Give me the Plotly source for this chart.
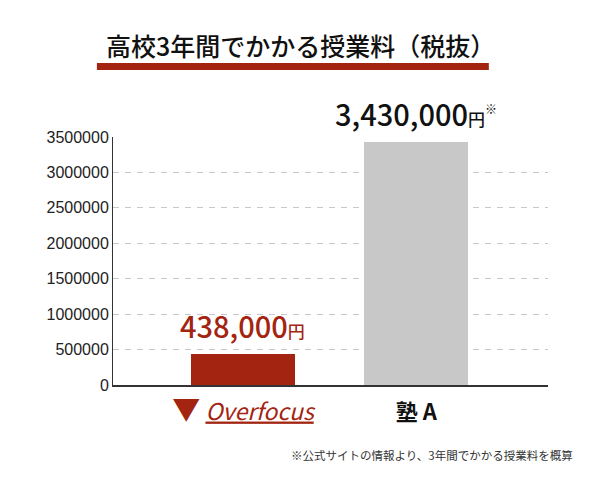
import plotly.graph_objects as go

# data
schools = ['Overfocus', '塾 A']
fees = [438000, 3430000]
fee_labels = ['438,000', '3,430,000']
tick_labels = ["<span style='color:#a32411;font-size:28px'>▼</span>"
               "<span style='color:#a32411;font-size:23px'> <i><u>Overfocus</u></i></span>",
               "<span style='font-size:22px'><b>塾 A</b></span>"]
bar_colors = ['#a32411', '#c8c8c8']
label_colors = ['#a32411', '#111111']
y_ticks = [0, 500000, 1000000, 1500000, 2000000, 2500000, 3000000, 3500000]

title = '高校3年間でかかる授業料（税抜）'
note = '※公式サイトの情報より、3年間でかかる授業料を概算'

fnt = 'Noto Sans CJK JP'

fig = go.Figure()
fig.add_trace(go.Bar(x=schools, y=fees, marker_color=bar_colors,
                     marker_line_width=0, width=0.6, hoverinfo='skip'))

# value labels over bars
for i, (s, v) in enumerate(zip(schools, fees)):
    extra = "<sup><span style='font-size:12px'>※</span></sup>" if i == 1 else ''
    fig.add_annotation(x=s, y=v, xref='x', yref='y', yanchor='bottom', yshift=6,
                       text=fee_labels[i] + "<span style='font-size:17px'>円</span>" + extra,
                       showarrow=False,
                       font=dict(family=fnt, size=29, color=label_colors[i], weight=500))

# title + red bar under it
fig.add_annotation(x=0.43, y=1.37, xref='paper', yref='paper', text=title,
                   showarrow=False, font=dict(family=fnt, size=25, color='#111', weight=500),
                   xanchor='center', yanchor='middle')
fig.add_shape(type='rect', xref='paper', yref='paper', x0=-0.037, x1=0.864,
              y0=1.270, y1=1.298, fillcolor='#a32411', line_width=0)

# footnote
fig.add_annotation(x=1.062, y=-0.282, xref='paper', yref='paper', text=note,
                   showarrow=False, xanchor='right', yanchor='middle',
                   font=dict(family=fnt, size=11.5, color='#333'))

fig.update_xaxes(range=[-0.75, 1.76], tickvals=schools, ticktext=tick_labels,
                 showline=True, linecolor='#333', linewidth=1.5,
                 ticks='', ticklabelstandoff=10,
                 tickfont=dict(family=fnt, size=19, color='#111'),
                 showgrid=False)
fig.update_yaxes(range=[0, 3500000], tickvals=y_ticks, tickformat='d',
                 showline=True, linecolor='#333', linewidth=1,
                 gridcolor='#c8c8c8', griddash='6px,6px', gridwidth=1,
                 zeroline=False,
                 tickfont=dict(family='Liberation Sans', size=16, color='#222'))

# page has 8px body margin, so margins are shifted to keep plot area in place
fig.update_layout(width=597, height=483, template='plotly_white',
                  plot_bgcolor='white', paper_bgcolor='white',
                  margin=dict(l=105, r=57, t=129, b=106),
                  showlegend=False, bargap=0)

fig.write_html('out.html')
